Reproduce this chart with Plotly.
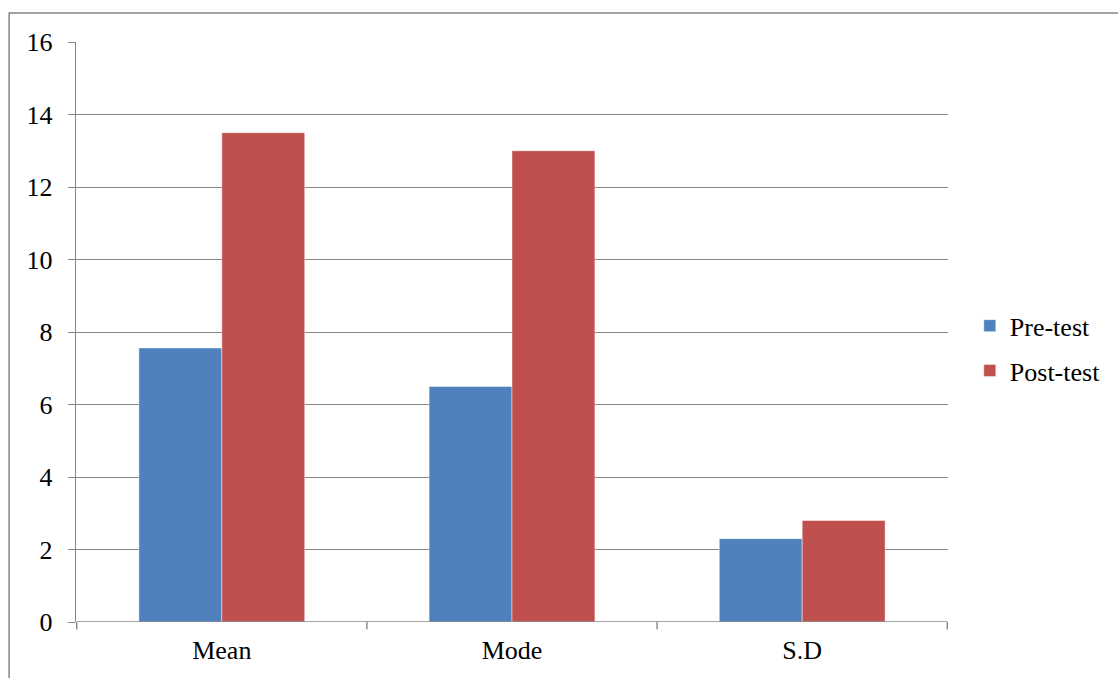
import plotly.graph_objects as go

categories = ["Mean", "Mode", "S.D"]
pre_test = [7.56, 6.5, 2.3]
post_test = [13.5, 13.0, 2.8]
y_ticks = [0, 2, 4, 6, 8, 10, 12, 14, 16]

FONT = "Liberation Serif"
GRID = "#868686"
FS = 26

fig = go.Figure()
fig.add_trace(go.Bar(x=categories, y=pre_test, name="Pre-test",
                     marker=dict(color="#4F81BD", line=dict(color="rgba(255,255,255,0.45)", width=1)),
                     legendgroup="a"))
fig.add_trace(go.Bar(x=categories, y=post_test, name="Post-test",
                     marker=dict(color="#C0504D", line=dict(color="rgba(255,255,255,0.45)", width=1)),
                     legendgroup="b"))

fig.update_layout(
    width=1118, height=678,
    margin=dict(l=76, r=168, t=42, b=56),
    paper_bgcolor="white", plot_bgcolor="white",
    barmode="group", bargap=0.4286, bargroupgap=0,
    font=dict(family=FONT, size=FS, color="black"),
    showlegend=True,
    legend=dict(x=1.025, y=0.472, xanchor="left", yanchor="middle",
                font=dict(family=FONT, size=FS, color="black"),
                traceorder="grouped", tracegroupgap=8, itemwidth=30,
                bgcolor="rgba(0,0,0,0)"),
    xaxis=dict(showgrid=False, showline=False, ticks="", tickfont=dict(size=FS),
               ticklabelstandoff=10),
    yaxis=dict(range=[0, 16], tickvals=y_ticks, showgrid=True, gridcolor=GRID, gridwidth=1.4,
               showline=True, linecolor=GRID, linewidth=1.4, ticks="outside", ticklen=7,
               tickcolor=GRID, tickwidth=1.4, tickfont=dict(size=FS), zeroline=False,
               ticklabelstandoff=10),
)

# category-axis line with boundary ticks (drawn in axis coordinates)
fig.add_shape(type="line", xref="x", yref="y", x0=-0.5, x1=2.5, y0=0, y1=0,
              line=dict(color=GRID, width=1.4))
for b in [-0.5, 0.5, 1.5, 2.5]:
    fig.add_shape(type="line", xref="x", yref="paper", x0=b, x1=b, y0=0, y1=-0.013,
                  line=dict(color=GRID, width=1.4))

# outer chart border
fig.add_shape(type="rect", xref="paper", yref="paper",
              x0=-0.0767, x1=1.196, y0=-0.2, y1=1.05,
              line=dict(color=GRID, width=1.5), fillcolor="rgba(0,0,0,0)", layer="below")

fig.write_html("out.html", config={"displayModeBar": False},
               post_script="document.body.style.margin='0';")
